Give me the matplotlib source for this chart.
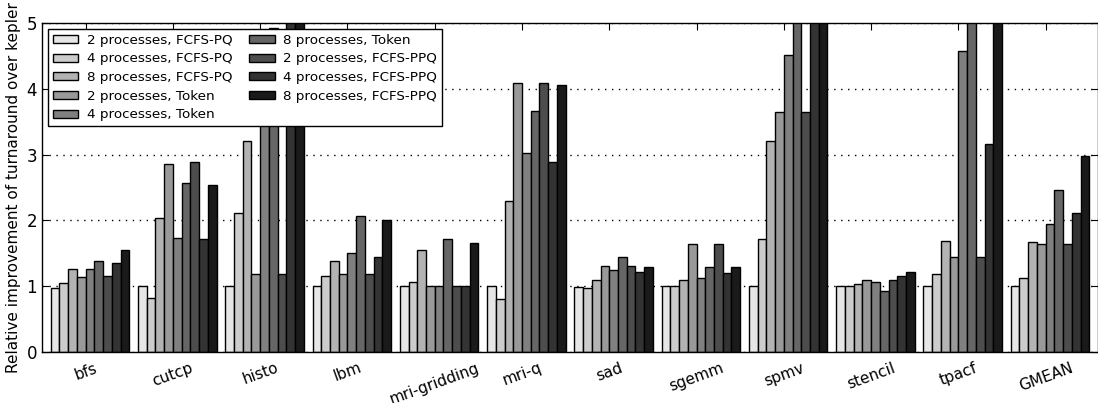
import numpy as np
import matplotlib
matplotlib.use('Agg')
from matplotlib import pyplot as plt

benchmarks = ['bfs', 'cutcp', 'histo', 'lbm', 'mri-gridding', 'mri-q',
              'sad', 'sgemm', 'spmv', 'stencil', 'tpacf', 'GMEAN']

series_names = ['2 processes, FCFS-PQ', '4 processes, FCFS-PQ',
                '8 processes, FCFS-PQ', '2 processes, Token',
                '4 processes, Token', '8 processes, Token',
                '2 processes, FCFS-PPQ', '4 processes, FCFS-PPQ',
                '8 processes, FCFS-PPQ']

# one list per series, values per benchmark (bars above 5 are clipped by the axis)
fcfs_pq_2 = [0.98, 1.00, 1.00, 1.00, 1.00, 1.00, 0.99, 1.00, 1.00, 1.00, 1.00, 1.00]
fcfs_pq_4 = [1.05, 0.82, 2.12, 1.15, 1.07, 0.80, 0.97, 1.01, 1.72, 1.01, 1.19, 1.13]
fcfs_pq_8 = [1.26, 2.04, 3.21, 1.39, 1.55, 2.29, 1.10, 1.10, 3.20, 1.04, 1.69, 1.67]
token_2 = [1.14, 2.86, 1.18, 1.18, 1.00, 4.09, 1.30, 1.64, 3.64, 1.10, 1.44, 1.64]
token_4 = [1.26, 1.74, 4.30, 1.50, 1.01, 3.02, 1.25, 1.13, 4.51, 1.07, 4.57, 1.94]
token_8 = [1.39, 2.57, 4.93, 2.06, 1.72, 3.66, 1.44, 1.29, 5.60, 0.92, 5.80, 2.46]
fcfs_ppq_2 = [1.16, 2.89, 1.18, 1.19, 1.00, 4.09, 1.30, 1.64, 3.64, 1.10, 1.44, 1.64]
fcfs_ppq_4 = [1.35, 1.72, 5.50, 1.45, 1.00, 2.88, 1.21, 1.20, 5.80, 1.15, 3.16, 2.12]
fcfs_ppq_8 = [1.55, 2.54, 5.70, 2.00, 1.65, 4.06, 1.29, 1.29, 6.00, 1.22, 6.00, 2.98]

all_series = [fcfs_pq_2, fcfs_pq_4, fcfs_pq_8, token_2, token_4, token_8,
              fcfs_ppq_2, fcfs_ppq_4, fcfs_ppq_8]
greys = ['0.9', '0.8', '0.7', '0.6', '0.5', '0.4', '0.3', '0.2', '0.1']

width = 0.1
ind = np.arange(len(benchmarks))

fig = plt.figure(figsize=(10.98, 4.03), dpi=100)
ax = fig.add_axes([42/1098., 1 - 352/403., 1 - 42/1098., (352 - 23)/403.])

for j in range(len(all_series)):
    ax.bar(ind + j*width, all_series[j], width, align='edge', color=greys[j],
           edgecolor='black', linewidth=1.0, label=series_names[j], zorder=2)

ax.set_ylim(0, 5)
ax.set_xlim(-0.1, 12.0)
ax.set_yticks([0, 1, 2, 3, 4, 5])
ax.yaxis.grid(True, linestyle=(0, (1, 4)), color='black', linewidth=1.0, zorder=1)
ax.set_axisbelow(True)
ax.set_xticks(ind + 4*width)
ax.set_xticklabels(benchmarks, rotation=20, fontsize=11)
ax.tick_params(axis='both', direction='in', top=True, right=True, length=5,
               labelsize=12)
ax.tick_params(axis='x', labelsize=11, pad=6)
ax.set_ylabel('Relative improvement of turnaround over kepler', fontsize=11)

leg = ax.legend(loc='upper left', ncol=2, fontsize=9.7, fancybox=False,
                framealpha=1.0, edgecolor='black', borderaxespad=0.45,
                handlelength=1.9, handleheight=0.55, handletextpad=0.65,
                columnspacing=1.2, labelspacing=0.42, borderpad=0.35)
leg.get_frame().set_linewidth(1.0)

for s in ax.spines.values():
    s.set_linewidth(1.0)

fig.savefig('out.png', dpi=100)
